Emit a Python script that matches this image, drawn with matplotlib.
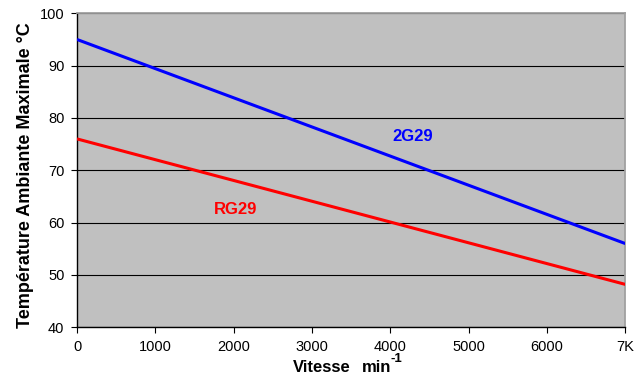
import matplotlib
matplotlib.use("Agg")
import matplotlib.pyplot as plt

plt.rcParams['font.family'] = ['Liberation Sans', 'DejaVu Sans']

speed = [0, 7000]
temp_2g29 = [95.0, 56.0]
temp_rg29 = [76.0, 48.2]
x_ticks = [0, 1000, 2000, 3000, 4000, 5000, 6000, 7000]
x_tick_labels = ['0', '1000', '2000', '3000', '4000', '5000', '6000', '7K']
y_ticks = [40, 50, 60, 70, 80, 90, 100]

W, H = 644, 374
fig = plt.figure(figsize=(W/100, H/100), dpi=100)
ax = fig.add_axes([77/W, 1 - 327.3/H, 548.3/W, (327.3 - 13.3)/H])
ax.set_facecolor('#C0C0C0')

ax.plot(speed, temp_2g29, color='#0000FF', lw=2.2, solid_capstyle='butt', zorder=3)
ax.plot(speed, temp_rg29, color='#FF0000', lw=2.2, solid_capstyle='butt', zorder=3)

ax.set_xlim(0, 7000)
ax.set_ylim(40, 100)
ax.set_xticks(x_ticks)
ax.set_xticklabels(x_tick_labels)
ax.set_yticks(y_ticks)
ax.yaxis.grid(True, color='black', lw=0.8)
ax.set_axisbelow(True)

ax.tick_params(direction='out', length=4, width=0.8, labelsize=10.5, pad=5)
for s in ['left', 'bottom']:
    ax.spines[s].set_color('black')
    ax.spines[s].set_linewidth(1.0)
for s in ['top', 'right']:
    ax.spines[s].set_color('#A0A0A0')
    ax.spines[s].set_linewidth(1.3)

# Axis titles
fig.text(25.5/W, 1 - 175/H, 'Température Ambiante Maximale °C', fontsize=13,
         fontweight='bold', rotation=90, ha='center', va='center')
fig.text(293/W, 1 - 371.5/H, 'Vitesse', fontsize=12, fontweight='bold', ha='left', va='baseline')
fig.text(362/W, 1 - 371.5/H, 'min', fontsize=12, fontweight='bold', ha='left', va='baseline')
fig.text(390.5/W, 1 - 361.5/H, '-1', fontsize=9.5, fontweight='bold', ha='left', va='baseline')

ax.text(4290, 76.4, '2G29', color='#0000FF', fontsize=12, fontweight='bold', ha='center', va='center')
ax.text(2030, 62.6, 'RG29', color='#FF0000', fontsize=12, fontweight='bold', ha='center', va='center')

fig.savefig('out.png', dpi=100)
